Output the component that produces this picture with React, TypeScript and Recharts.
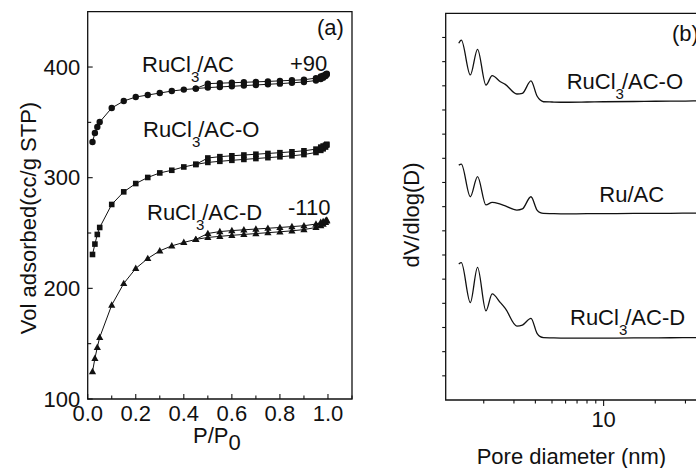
import React from 'react';
import { ScatterChart, Scatter, LineChart, Line, XAxis, YAxis, ReferenceArea } from 'recharts';

const FONT = '"Liberation Sans", Arial, Helvetica, sans-serif';
const INK = '#111';

// ---- (a) N2 isotherms (adsorption up, desorption back down) ----
const pAds = [0.02, 0.03, 0.04, 0.05, 0.1, 0.15, 0.2, 0.25, 0.3, 0.35, 0.4, 0.45, 0.5, 0.55, 0.6, 0.65, 0.7, 0.75, 0.8, 0.85, 0.9, 0.95, 0.97, 0.98, 0.99, 0.995];
const pDes = [0.995, 0.99, 0.98, 0.97, 0.95, 0.9, 0.85, 0.8, 0.75, 0.7, 0.65, 0.6, 0.55, 0.5, 0.45];

const acAds = [332.3, 340.4, 345.8, 350.3, 363.0, 369.3, 372.9, 374.7, 376.5, 378.3, 379.6, 380.5, 381.4, 382.0, 382.6, 383.2, 383.8, 384.4, 385.0, 385.7, 386.5, 387.8, 389.2, 390.4, 391.8, 393.2];
const acDes = [394.0, 393.2, 392.2, 391.4, 390.0, 388.5, 388.0, 387.5, 387.0, 386.6, 386.2, 385.8, 385.4, 385.0, 380.5];

const acoAds = [230.6, 240.0, 248.7, 255.0, 275.8, 287.2, 294.7, 300.2, 304.3, 306.7, 309.7, 312.0, 313.8, 314.8, 315.7, 316.5, 317.3, 318.1, 318.9, 319.8, 320.9, 322.8, 324.7, 326.1, 327.7, 329.5];
const acoDes = [330.2, 329.4, 328.6, 327.6, 325.8, 324.3, 323.4, 322.6, 321.9, 321.2, 320.5, 319.8, 319.0, 317.8, 312.0];

const acdAds = [124.7, 136.7, 146.7, 155.7, 184.9, 204.4, 218.0, 227.0, 233.9, 238.4, 241.5, 244.2, 246.0, 247.0, 247.9, 248.7, 249.5, 250.3, 251.1, 252.0, 253.1, 255.0, 256.7, 258.1, 259.6, 261.0];
const acdDes = [261.7, 261.1, 260.4, 259.6, 258.1, 256.6, 255.8, 255.0, 254.3, 253.6, 252.9, 252.2, 251.3, 249.6, 244.2];

const xTicksA = [0, 0.1, 0.2, 0.3, 0.4, 0.5, 0.6, 0.7, 0.8, 0.9, 1.0, 1.1];
const yTicksA = [100, 150, 200, 250, 300, 350, 400, 450];

// ---- (b) pore size distributions (offset curves) ----
const poreD = [1.43, 1.48, 1.67, 1.84, 2.06, 2.24, 2.5, 2.67, 3.12, 3.36, 3.77, 4.09, 4.27, 4.46, 5, 6, 8, 10, 15, 20, 30, 40, 50];
const psdO = [14.76, 14.89, 13.45, 14.51, 13.03, 13.42, 13.17, 13.06, 12.66, 12.69, 13.2, 12.58, 12.41, 12.34, 12.33, 12.32, 12.33, 12.34, 12.35, 12.36, 12.37, 12.38, 12.38];
const psdRu = [9.72, 9.76, 8.41, 9.24, 8.07, 8.18, 8.1, 8.03, 7.86, 7.91, 8.41, 7.86, 7.75, 7.72, 7.71, 7.7, 7.71, 7.71, 7.72, 7.72, 7.73, 7.73, 7.73];
const psdD = [5.63, 5.68, 4.03, 5.49, 3.69, 4.39, 4.03, 3.79, 3.06, 3.1, 3.38, 2.76, 2.62, 2.58, 2.57, 2.56, 2.56, 2.56, 2.57, 2.57, 2.58, 2.58, 2.58];

const xTicksB = [2, 3, 4, 5, 6, 7, 8, 9, 10, 20, 30, 40];
const yTicksB = [1, 2, 3, 4, 5, 6, 7, 8, 9, 10, 11, 12, 13, 14, 15];

const loop = (ads: number[], des: number[]) => [
  ...pAds.map((p, i) => ({ p, v: ads[i] })),
  ...pDes.map((p, i) => ({ p, v: des[i] })),
];

const psdData = poreD.map((d, i) => ({ d, o: psdO[i], ru: psdRu[i], dd: psdD[i] }));

const Circle = (p: any) => <circle cx={p.cx} cy={p.cy} r={3.2} fill={INK} />;
const Square = (p: any) => <rect x={p.cx - 2.8} y={p.cy - 2.8} width={5.6} height={5.6} fill={INK} />;
const Tri = (p: any) => (
  <path d={`M${p.cx},${p.cy - 3.8}L${p.cx + 3.6},${p.cy + 2.6}L${p.cx - 3.6},${p.cy + 2.6}Z`} fill={INK} />
);

const TickAX = (props: any) => {
  const { x, y, payload } = props;
  const v = payload.value;
  const major = Math.round(v * 10) % 2 === 0;
  return (
    <g>
      <line x1={x} x2={x} y1={y} y2={y - (major ? 5 : 3.5)} stroke={INK} strokeWidth={1.1} />
      {major && v < 1.05 && (
        <text x={x} y={y + 22} textAnchor="middle" fontSize={22} fontFamily={FONT} fill={INK}>
          {v.toFixed(1)}
        </text>
      )}
    </g>
  );
};

const TickAY = (props: any) => {
  const { x, y, payload } = props;
  const v = payload.value;
  const major = v % 100 === 0;
  if (v >= 450) return null;
  return (
    <g>
      <line x1={x} x2={x + (major ? 5 : 3.5)} y1={y} y2={y} stroke={INK} strokeWidth={1.1} />
      {major && (
        <text x={x - 7.5} y={y + 7.5} textAnchor="end" fontSize={22} fontFamily={FONT} fill={INK}>
          {v}
        </text>
      )}
    </g>
  );
};

const TickBX = (props: any) => {
  const { x, y, payload } = props;
  const v = payload.value;
  const major = v === 10;
  return (
    <g>
      <line x1={x} x2={x} y1={y} y2={y + (major ? 6 : 3.5)} stroke={INK} strokeWidth={1.1} />
      {major && (
        <text x={x} y={y + 27} textAnchor="middle" fontSize={22} fontFamily={FONT} fill={INK}>
          10
        </text>
      )}
    </g>
  );
};

const TickBY = (props: any) => {
  const { x, y } = props;
  return <line x1={x} x2={x - 3.5} y1={y} y2={y} stroke={INK} strokeWidth={1.1} />;
};

const Sub = ({ x, y, a, b }: { x: number; y: number; a: string; b: string }) => (
  <text x={x} y={y} fontSize={22} fontFamily={FONT} fill={INK}>
    {a}
    <tspan fontSize={15} dy={10}>3</tspan>
    <tspan dy={-10} dx={-2}>{b}</tspan>
  </text>
);

const T = ({ x, y, children, anchor = 'start' }: any) => (
  <text x={x} y={y} fontSize={22} fontFamily={FONT} fill={INK} textAnchor={anchor}>
    {children}
  </text>
);

export default function App() {
  return (
    <div style={{ position: 'absolute', left: 0, top: 0, width: 696, height: 468, overflow: 'hidden', background: '#fff' }}>
      <div style={{ position: 'absolute', left: 0, top: 0 }}>
        <ScatterChart width={360} height={468} margin={{ top: 11.7, right: 8, left: 27.7, bottom: 39 }}>
          <XAxis
            dataKey="p"
            type="number"
            domain={[0, 1.1]}
            ticks={xTicksA}
            interval={0}
            axisLine={false}
            tickLine={false}
            tickSize={0}
            tickMargin={0}
            tick={<TickAX />}
            height={30}
          />
          <YAxis
            dataKey="v"
            type="number"
            domain={[100, 450]}
            ticks={yTicksA}
            interval={0}
            axisLine={false}
            tickLine={false}
            tickSize={0}
            tickMargin={0}
            tick={<TickAY />}
            width={60}
          />
          <ReferenceArea x1={0} x2={1.1} y1={100} y2={450} fill="none" stroke={INK} strokeWidth={1.3} ifOverflow="extendDomain" />
          <Scatter data={loop(acAds, acDes)} shape={Circle} line={{ stroke: INK, strokeWidth: 1 }} isAnimationActive={false} />
          <Scatter data={loop(acoAds, acoDes)} shape={Square} line={{ stroke: INK, strokeWidth: 1 }} isAnimationActive={false} />
          <Scatter data={loop(acdAds, acdDes)} shape={Tri} line={{ stroke: INK, strokeWidth: 1 }} isAnimationActive={false} />
        </ScatterChart>
      </div>

      <div style={{ position: 'absolute', left: 360, top: 0 }}>
        <LineChart width={370} height={468} data={psdData} margin={{ top: 13.3, right: 6.5, left: 45.7, bottom: 38 }}>
          <XAxis
            dataKey="d"
            type="number"
            scale="log"
            domain={[1.2, 50]}
            allowDataOverflow
            ticks={xTicksB}
            interval={0}
            axisLine={false}
            tickLine={false}
            tickSize={0}
            tickMargin={0}
            tick={<TickBX />}
            height={30}
          />
          <YAxis
            type="number"
            domain={[0, 16]}
            ticks={yTicksB}
            interval={0}
            axisLine={false}
            tickLine={false}
            tickSize={0}
            tickMargin={0}
            tick={<TickBY />}
            width={40}
          />
          <ReferenceArea x1={1.2} x2={50} y1={0} y2={16} fill="none" stroke={INK} strokeWidth={1.3} />
          <Line dataKey="o" type="monotone" stroke={INK} strokeWidth={1.3} dot={false} isAnimationActive={false} />
          <Line dataKey="ru" type="monotone" stroke={INK} strokeWidth={1.3} dot={false} isAnimationActive={false} />
          <Line dataKey="dd" type="monotone" stroke={INK} strokeWidth={1.3} dot={false} isAnimationActive={false} />
        </LineChart>
      </div>

      <svg width={696} height={468} style={{ position: 'absolute', left: 0, top: 0, pointerEvents: 'none' }}>
        {/* panel (a) */}
        <Sub x={142} y={71.7} a="RuCl" b="/AC" />
        <T x={290} y={70.7}>+90</T>
        <Sub x={143} y={136.7} a="RuCl" b="/AC-O" />
        <Sub x={147} y={220} a="RuCl" b="/AC-D" />
        <T x={288} y={215}>-110</T>
        <T x={317} y={35}>(a)</T>
        <text x={36} y={218} fontSize={22} fontFamily={FONT} fill={INK} textAnchor="middle" transform="rotate(-90, 36, 218)">
          Vol adsorbed(cc/g STP)
        </text>
        <text x={193} y={443} fontSize={22} fontFamily={FONT} fill={INK}>
          P/P<tspan dy={7}>0</tspan>
        </text>

        {/* panel (b) */}
        <T x={672} y={41}>(b)</T>
        <Sub x={566.7} y={89} a="RuCl" b="/AC-O" />
        <T x={599.3} y={201.5}>Ru/AC</T>
        <Sub x={570} y={325} a="RuCl" b="/AC-D" />
        <text x={419} y={215} fontSize={22} fontFamily={FONT} fill={INK} textAnchor="middle" transform="rotate(-90, 419, 215)">
          dV/dlog(D)
        </text>
        <T x={476.7} y={464}>Pore diameter (nm)</T>
      </svg>
    </div>
  );
}
